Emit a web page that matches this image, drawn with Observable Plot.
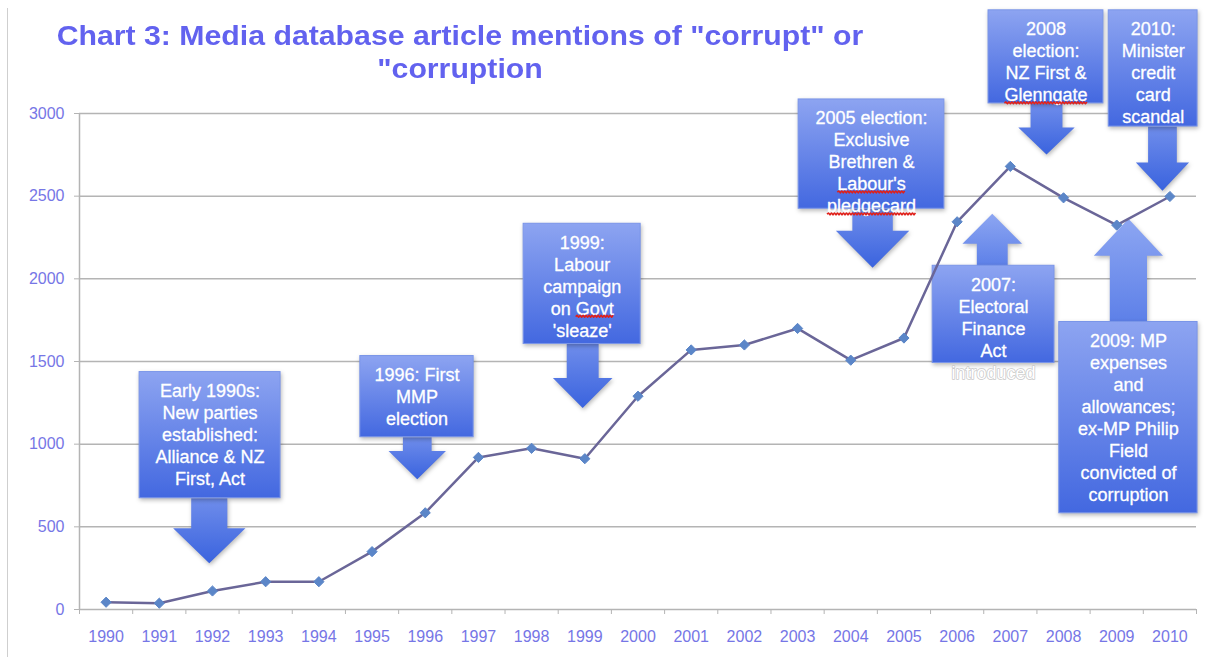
<!DOCTYPE html>
<html>
<head>
<meta charset="utf-8">
<script src="https://cdn.jsdelivr.net/npm/d3@7"></script>
<script src="https://cdn.jsdelivr.net/npm/@observablehq/plot@0.6"></script>
<style>
  html, body { margin: 0; padding: 0; background: #fff; }
  #wrap { position: relative; width: 1207px; height: 657px; overflow: hidden; }
  #title { position: absolute; left: 0; top: 19px; width: 920px; text-align: center;
    font: bold 28px/33px "Liberation Sans", Arial, sans-serif; color: #6262ef;
    transform: scaleX(1.08); transform-origin: 460px 0; }
  #edge { position: absolute; left: 7px; top: 8px; bottom: 0; width: 1px; background: #cfcfcf; }
</style>
</head>
<body>
<div id="wrap">
  <div id="chart"></div>
  <div id="edge"></div>
  <div id="title">Chart 3: Media database article mentions of "corrupt" or<br>"corruption</div>
</div>
<script>
// ---- data ----
const years = [1990, 1991, 1992, 1993, 1994, 1995, 1996, 1997, 1998, 1999, 2000,
               2001, 2002, 2003, 2004, 2005, 2006, 2007, 2008, 2009, 2010];
const mentions = [44, 38, 112, 168, 168, 350, 585, 920, 975, 912, 1290,
                  1570, 1600, 1700, 1508, 1642, 2345, 2680, 2490, 2325, 2498];
const yTicks = [0, 500, 1000, 1500, 2000, 2500, 3000];

// annotation call-outs (box extent and arrow in data units: years / mentions)
const notes = [
  {lines: ["Early 1990s:", "New parties", "established:", "Alliance & NZ", "First, Act"],
   x1: 1990.63, x2: 1993.28, top: 1436, bottom: 673, ax: 1991.94, head: 491, tip: 279, hw: 0.68, sw: 0.34},
  {lines: ["1996: First", "MMP", "election"],
   x1: 1994.78, x2: 1996.91, top: 1533, bottom: 1042, ax: 1995.85, head: 958, tip: 788, hw: 0.54, sw: 0.27},
  {lines: ["1999:", "Labour", "campaign", "on Govt", "'sleaze'"],
   x1: 1997.85, x2: 2000.05, top: 2333, bottom: 1606, ax: 1998.96, head: 1400, tip: 1218, hw: 0.56, sw: 0.30},
  {lines: ["2005 election:", "Exclusive", "Brethren &", "Labour's", "pledgecard"],
   x1: 2003.02, x2: 2005.76, top: 3085, bottom: 2424, ax: 2004.41, head: 2291, tip: 2067, hw: 0.69, sw: 0.38},
  {lines: ["2008", "election:", "NZ First &", "Glenngate"],
   x1: 2006.59, x2: 2008.75, top: 3624, bottom: 3061, ax: 2007.68, head: 2915, tip: 2752, hw: 0.53, sw: 0.30},
  {lines: ["2010:", "Minister", "credit", "card", "scandal"],
   x1: 2008.85, x2: 2010.52, top: 3624, bottom: 2921, ax: 2009.86, head: 2703, tip: 2533, hw: 0.50, sw: 0.27},
  {lines: ["2007:", "Electoral", "Finance", "Act"], overflow: "introduced",
   x1: 2005.54, x2: 2007.83, top: 2079, bottom: 1491, ax: 2006.66, head: 2212, tip: 2394, hw: 0.56, sw: 0.29, up: true},
  {lines: ["2009: MP", "expenses", "and", "allowances;", "ex-MP Philip", "Field", "convicted of", "corruption"],
   x1: 2007.92, x2: 2010.52, top: 1739, bottom: 582, ax: 2009.22, head: 2139, tip: 2364, hw: 0.65, sw: 0.35, up: true}
];
const spellFlagged = ["Govt", "Labour's", "pledgecard", "Glenngate"];

// ---- derived tables ----
const series = years.map((year, i) => ({year, value: mentions[i]}));

const arrowPts = [];
notes.forEach((n, k) => {
  const base = n.up ? n.top : n.bottom;
  const pts = [
    [n.ax - n.sw, base], [n.ax + n.sw, base], [n.ax + n.sw, n.head], [n.ax + n.hw, n.head],
    [n.ax, n.tip], [n.ax - n.hw, n.head], [n.ax - n.sw, n.head]
  ];
  pts.forEach(([x, y]) => arrowPts.push({id: k, up: !!n.up, x, y}));
});

const textRows = [];
notes.forEach(n => {
  const cx = (n.x1 + n.x2) / 2;
  n.lines.forEach((line, i) => textRows.push({x: cx, y: n.top, i, line}));
});
const overflowRows = notes.filter(n => n.overflow).map(n => ({
  x: (n.x1 + n.x2) / 2, y: n.top, i: n.lines.length, line: n.overflow
}));

const boundaries = d3.range(0, years.length + 1).map(i => years[0] - 0.5 + i);

const lavender = "#7676e6";
const gridGray = "#b4b4b4";
const LINE0 = 19, LINESTEP = 22;

const textMarks = [];
for (let i = 0; i < 8; i++) {
  textMarks.push(Plot.text(textRows.filter(d => d.i === i), {
    x: "x", y: "y", text: "line", dy: LINE0 + LINESTEP * i,
    fill: "white", stroke: "white", strokeWidth: 0.3, fontSize: 18, lineAnchor: "middle", textAnchor: "middle"
  }));
}
overflowRows.forEach(r => {
  textMarks.push(Plot.text([r], {
    x: "x", y: "y", text: "line", dy: LINE0 + LINESTEP * r.i,
    fill: "white", stroke: "#c9c9c9", strokeWidth: 1.5, paintOrder: "stroke",
    fontSize: 18, lineAnchor: "middle", textAnchor: "middle"
  }));
});

const chart = Plot.plot({
  width: 1207,
  height: 657,
  marginLeft: 79,
  marginRight: 11,
  marginTop: 113,
  marginBottom: 48,
  style: {fontFamily: "'Liberation Sans', Arial, sans-serif", fontSize: "16px", background: "white", overflow: "visible"},
  x: {domain: [years[0] - 0.5, years[years.length - 1] + 0.5], axis: null},
  y: {domain: [0, 3000], axis: null},
  marks: [
    Plot.ruleY(yTicks, {stroke: gridGray, strokeWidth: 1.5}),
    Plot.ruleX([boundaries[0]], {stroke: gridGray, strokeWidth: 1.5}),
    Plot.axisY({ticks: yTicks, tickSize: 5, tickPadding: 10, tickFormat: d => String(d), stroke: gridGray, fill: lavender, fontSize: 16, label: null}),
    Plot.axisX({ticks: boundaries, tickSize: 5, tickFormat: () => "", stroke: gridGray, label: null}),
    Plot.axisX({ticks: years, tickSize: 0, tickPadding: 21, tickFormat: d => String(d), fill: lavender, fontSize: 16, label: null}),
    // call-out arrows
    Plot.line(arrowPts.filter(d => !d.up), {x: "x", y: "y", z: "id", fill: "url(#gArrowDown)", stroke: "none"}),
    Plot.line(arrowPts.filter(d => d.up), {x: "x", y: "y", z: "id", fill: "url(#gArrowUp)", stroke: "none"}),
    // call-out boxes
    Plot.rect(notes, {x1: "x1", x2: "x2", y1: "bottom", y2: "top", fill: "url(#gBox)", stroke: "#7a95e9", strokeWidth: 1}),
    ...textMarks,
    // data series
    Plot.line(series, {x: "year", y: "value", stroke: "#6a6698", strokeWidth: 2.5}),
    Plot.dot(series, {x: "year", y: "value", symbol: "diamond2", r: 4.6, fill: "#5b86c8", stroke: "#5b86c8", strokeWidth: 1})
  ]
});

// gradients
const ns = "http://www.w3.org/2000/svg";
const defs = document.createElementNS(ns, "defs");
function grad(id, c0, c1) {
  const g = document.createElementNS(ns, "linearGradient");
  g.setAttribute("id", id);
  g.setAttribute("x1", "0"); g.setAttribute("y1", "0");
  g.setAttribute("x2", "0"); g.setAttribute("y2", "1");
  [[0, c0], [1, c1]].forEach(([o, c]) => {
    const s = document.createElementNS(ns, "stop");
    s.setAttribute("offset", o);
    s.setAttribute("stop-color", c);
    g.appendChild(s);
  });
  defs.appendChild(g);
}
grad("gBox", "#8da4f1", "#4368e0");
grad("gArrowDown", "#6f8deb", "#3a63de");
grad("gArrowUp", "#8da6f2", "#5d80e8");
chart.insertBefore(defs, chart.firstChild);

document.getElementById("chart").appendChild(chart);

// drop shadows on call-outs
chart.querySelectorAll('[fill^="url("]').forEach(el => {
  el.style.filter = "drop-shadow(1px 2px 2px rgba(0,0,0,0.28))";
});

// red spell-check underlines under flagged words
chart.querySelectorAll("text").forEach(t => {
  const s = t.textContent;
  spellFlagged.forEach(w => {
    const idx = s.indexOf(w);
    if (idx < 0 || t.getNumberOfChars() !== s.length) return;
    const a = t.getStartPositionOfChar(idx);
    const b = t.getEndPositionOfChar(idx + w.length - 1);
    const bb = t.getBBox();
    const yy = bb.y + bb.height - 2;
    let d = `M${a.x},${yy}`;
    let up = true;
    for (let x = a.x + 1.5; x <= b.x; x += 1.5) { d += `L${x},${yy + (up ? -1.2 : 0.6)}`; up = !up; }
    const p = document.createElementNS(ns, "path");
    p.setAttribute("d", d);
    p.setAttribute("fill", "none");
    p.setAttribute("stroke", "#e0201a");
    p.setAttribute("stroke-width", "1.6");
    if (t.getAttribute("transform")) p.setAttribute("transform", t.getAttribute("transform"));
    t.parentNode.appendChild(p);
  });
});
</script>
</body>
</html>
